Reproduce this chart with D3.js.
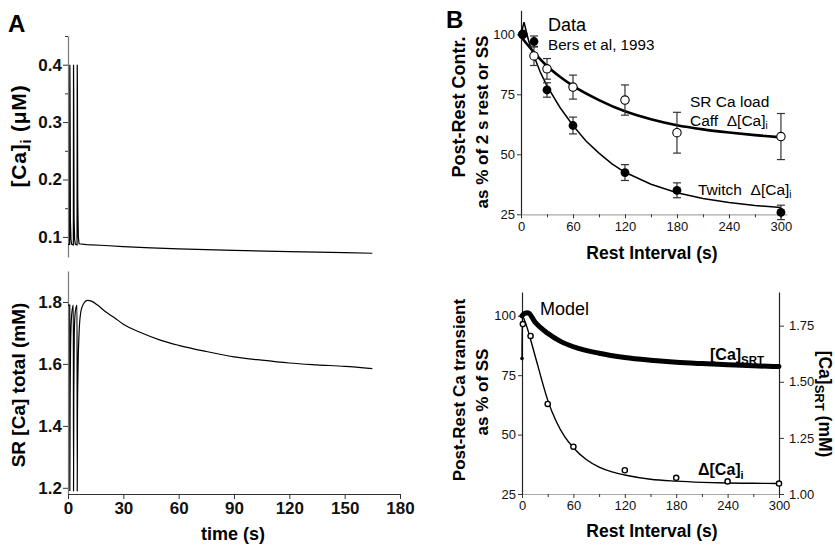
<!DOCTYPE html>
<html>
<head>
<meta charset="utf-8">
<script src="https://cdn.jsdelivr.net/npm/d3@7"></script>
<style>
  body { margin: 0; background: #fff; }
  svg text { font-family: "Liberation Sans", Arial, Helvetica, sans-serif; white-space: pre; }
</style>
</head>
<body>
<svg id="fig" width="835" height="546"></svg>
<script>
// ---------------- Panel A: time course after a train of 3 beats ----------------
const caiTime = [0, 0.9, 1.0, 1.1, 1.3, 1.6, 2.0, 2.9, 3.0, 3.1, 3.3, 3.6, 4.0, 4.9, 5.0, 5.1, 5.3, 5.6, 6,
                 10, 20, 30, 45, 60, 90, 120, 150, 165];
const caiValue = [0.087, 0.087, 0.40, 0.35, 0.13, 0.095, 0.087, 0.086, 0.40, 0.35, 0.13, 0.095, 0.087, 0.086, 0.40, 0.36, 0.165, 0.10, 0.088,
                  0.0865, 0.085, 0.083, 0.081, 0.079, 0.0765, 0.0745, 0.0725, 0.0715];

const srTime = [0, 0.95, 1.0, 1.15, 1.4, 2.0, 2.9, 3.0, 3.15, 3.4, 4.0, 4.9, 5.0, 5.15, 5.4, 6.0, 7.0, 8.5,
                10.5, 13, 16, 20, 25, 30, 40, 50, 60, 75, 90, 105, 120, 135, 150, 165];
const srValue = [1.79, 1.79, 1.19, 1.50, 1.66, 1.76, 1.79, 1.19, 1.50, 1.70, 1.77, 1.79, 1.19, 1.45, 1.57, 1.70, 1.77, 1.795,
                 1.805, 1.802, 1.79, 1.77, 1.75, 1.728, 1.70, 1.677, 1.66, 1.64, 1.623, 1.612, 1.603, 1.597, 1.592, 1.585];

const timeTicks = [0, 30, 60, 90, 120, 150, 180];
const caiTicks = [0.1, 0.2, 0.3, 0.4];
const caiMinorTicks = [0.15, 0.25, 0.35, 0.45];
const srTicks = [1.2, 1.4, 1.6, 1.8];

// ---------------- Panel B (upper): measured rest decay ----------------
const restInterval = [2, 15, 30, 60, 120, 180, 300];
const twitchMean = [100, 97, 76.8, 62, 42.4, 35, 25.8];
const twitchErr  = [0, 2.3, 3.0, 3.5, 3.3, 3.1, 3.0];
const caffMean   = [100, 91, 85.6, 78, 72.6, 59, 57.4];
const caffErr    = [0, 4.0, 4.3, 5.0, 6.3, 8.5, 9.6];

const caffFitT = [0, 15, 30, 45, 60, 90, 120, 150, 180, 210, 240, 270, 300];
const caffFitV = [99, 92.5, 86.8, 82.3, 78.5, 72.6, 67.9, 64.6, 62.1, 60.4, 59.1, 58.0, 57.1];
const twitchFitT = [0, 3.5, 9, 15, 22.5, 30, 45, 60, 75, 90, 105, 120, 150, 180, 210, 240, 270, 300];
const twitchFitV = [100, 105, 97, 91, 84, 78.5, 69.5, 62, 55.5, 50.5, 46, 42.5, 37.5, 34, 31.6, 29.9, 28.7, 27.8];

const restTicks = [0, 60, 120, 180, 240, 300];
const restMinorTicks = [30, 90, 150, 210, 270];
const pctTicks = [25, 50, 75, 100];

// ---------------- Panel B (lower): model ----------------
const modelRest = [1, 10, 30, 60, 120, 180, 240, 300];
const modelCai  = [96.5, 91.5, 62.9, 44.9, 35.0, 31.8, 30.3, 29.4];

const caiCurveT = [0, 0.4, 3, 6, 10, 15, 20, 25, 30, 40, 50, 60, 75, 90, 105, 120, 150, 180, 210, 240, 270, 300];
const caiCurveV = [82, 100, 98, 95, 90, 83.5, 77, 70.5, 64.5, 55.5, 49, 44.5, 39.5, 36.3, 34.3, 33, 31.2, 30.4, 29.9, 29.6, 29.5, 29.4];

const srtCurveT = [0, 3, 7, 15, 30, 45, 60, 90, 120, 150, 180, 210, 240, 270, 300];
const srtCurveV = [1.794, 1.805, 1.808, 1.767, 1.716, 1.68, 1.656, 1.627, 1.608, 1.596, 1.587, 1.581, 1.576, 1.571, 1.568];

const srtTicks = [1.0, 1.25, 1.5, 1.75];

// ---------------- drawing ----------------
const svg = d3.select("#fig");

function richText(parent, x, y, parts, o) {
  const t = parent.append("text")
    .attr("x", x).attr("y", y)
    .attr("font-size", o.size)
    .attr("font-weight", o.weight || "normal")
    .attr("text-anchor", o.anchor || "start")
    .attr("fill", o.fill || "#000");
  if (o.spacing) t.attr("letter-spacing", o.spacing);
  if (o.rotate) t.attr("transform", `rotate(${o.rotate},${x},${y})`);
  let shift = 0;
  parts.forEach(p => {
    const s = t.append("tspan").text(p.t);
    if (p.sub) {
      const sz = p.size || o.size * 0.7;
      const d = p.shift != null ? p.shift : o.size * 0.28;
      s.attr("font-size", sz).attr("dy", d);
      shift = d;
    } else if (shift) {
      s.attr("dy", -shift);
      shift = 0;
    }
  });
  return t;
}

function styleAxis(g, size, weight, domainColor) {
  g.attr("font-size", size).attr("font-weight", weight)
   .attr("font-family", '"Liberation Sans", Arial, Helvetica, sans-serif');
  g.select(".domain").attr("stroke", domainColor).attr("stroke-width", 1.2);
  g.selectAll(".tick line").attr("stroke", "#333").attr("stroke-width", 1);
  g.selectAll(".tick text").attr("fill", "#111");
  return g;
}

function minorTicks(g, axis) {
  g.call(axis);
  g.select(".domain").remove();
  g.selectAll(".tick line").attr("stroke", "#333");
}

// ===== Panel A =====
const xA = d3.scaleLinear().domain([0, 180]).range([68, 400]);
const yCai = d3.scaleLinear().domain([0.065, 0.45]).range([257, 36]);
const ySr = d3.scaleLinear().domain([1.18, 1.9]).range([494, 271]);

svg.append("text").attr("x", 8).attr("y", 32).attr("font-size", 24).attr("font-weight", "bold").text("A");

// upper: [Ca]i
const gCaiAx = svg.append("g").attr("transform", "translate(68,0)")
  .call(d3.axisLeft(yCai).tickValues(caiTicks).tickFormat(d3.format(".1f")).tickSize(5).tickSizeOuter(0).tickPadding(1));
styleAxis(gCaiAx, 17, "bold", "#777");
minorTicks(svg.append("g").attr("transform", "translate(68,0)"),
  d3.axisLeft(yCai).tickValues(caiMinorTicks).tickFormat("").tickSize(3));

svg.append("path")
  .datum(caiTime.map((t, i) => [t, caiValue[i]]))
  .attr("fill", "none").attr("stroke", "#000").attr("stroke-width", 1.2)
  .attr("d", d3.line().x(d => xA(d[0])).y(d => yCai(d[1])));

richText(svg, 26, 136, [{t: "[Ca]"}, {t: "i", sub: true, size: 14, shift: 5}, {t: " (\u03BCM)"}],
  {size: 21, weight: "bold", anchor: "middle", rotate: -90, spacing: 0.8});

// lower: SR Ca total
const gSrAx = svg.append("g").attr("transform", "translate(68,0)")
  .call(d3.axisLeft(ySr).tickValues(srTicks).tickFormat(d3.format(".1f")).tickSize(5).tickSizeOuter(0).tickPadding(1));
styleAxis(gSrAx, 17, "bold", "#777");

const gTimeAx = svg.append("g").attr("transform", "translate(0,494)")
  .call(d3.axisBottom(xA).tickValues(timeTicks).tickSize(5).tickSizeOuter(0).tickPadding(3));
styleAxis(gTimeAx, 17, "bold", "#333");

svg.append("path")
  .datum(srTime.map((t, i) => [t, srValue[i]]))
  .attr("fill", "none").attr("stroke", "#000").attr("stroke-width", 1.2)
  .attr("d", d3.line().x(d => xA(d[0])).y(d => ySr(d[1])).curve(d3.curveMonotoneX));

svg.append("text").attr("x", 25).attr("y", 385).attr("font-size", 19).attr("font-weight", "bold")
  .attr("text-anchor", "middle").attr("transform", "rotate(-90,25,385)").text("SR [Ca] total (mM)");
svg.append("text").attr("x", 233).attr("y", 540).attr("font-size", 18).attr("font-weight", "bold")
  .attr("text-anchor", "middle").text("time (s)");

// ===== Panel B upper =====
const xBt = d3.scaleLinear().domain([0, 307]).range([521, 787]);
const yBt = d3.scaleLinear().domain([25, 110]).range([214.3, 10.3]);

svg.append("text").attr("x", 446).attr("y", 28).attr("font-size", 24).attr("font-weight", "bold").text("B");

const gBtY = svg.append("g").attr("transform", "translate(521,0)")
  .call(d3.axisLeft(yBt).tickValues(pctTicks).tickSize(4).tickSizeOuter(0).tickPadding(2));
styleAxis(gBtY, 13, "normal", "#222");
const gBtX = svg.append("g").attr("transform", `translate(0,${yBt(25)})`)
  .call(d3.axisBottom(xBt).tickValues(restTicks).tickSize(4).tickSizeOuter(0).tickPadding(3));
styleAxis(gBtX, 13, "normal", "#aaa");
minorTicks(svg.append("g").attr("transform", `translate(0,${yBt(25)})`),
  d3.axisBottom(xBt).tickValues(restMinorTicks).tickFormat("").tickSize(3));

const lineBt = d3.line().x(d => xBt(d[0])).y(d => yBt(d[1])).curve(d3.curveMonotoneX);
svg.append("path").datum(caffFitT.map((t, i) => [t, caffFitV[i]]))
  .attr("fill", "none").attr("stroke", "#000").attr("stroke-width", 2.6).attr("d", lineBt);
svg.append("path").datum(twitchFitT.map((t, i) => [t, twitchFitV[i]]))
  .attr("fill", "none").attr("stroke", "#000").attr("stroke-width", 1.5)
  .attr("d", d3.line().x(d => xBt(d[0])).y(d => yBt(d[1])).curve(d3.curveLinear));

function errorBars(mean, err) {
  const g = svg.append("g").attr("stroke", "#333").attr("stroke-width", 1.2);
  restInterval.forEach((t, i) => {
    if (!err[i]) return;
    const x = xBt(t), y1 = yBt(mean[i] + err[i]), y2 = yBt(mean[i] - err[i]);
    g.append("line").attr("x1", x).attr("x2", x).attr("y1", y1).attr("y2", y2);
    g.append("line").attr("x1", x - 4).attr("x2", x + 4).attr("y1", y1).attr("y2", y1);
    g.append("line").attr("x1", x - 4).attr("x2", x + 4).attr("y1", y2).attr("y2", y2);
  });
}
errorBars(caffMean, caffErr);
errorBars(twitchMean, twitchErr);

svg.append("g").selectAll("circle").data(restInterval).join("circle")
  .attr("cx", d => xBt(d)).attr("cy", (d, i) => yBt(caffMean[i])).attr("r", 4.2)
  .attr("fill", "#fff").attr("stroke", "#000").attr("stroke-width", 1.1);
svg.append("g").selectAll("circle").data(restInterval).join("circle")
  .attr("cx", d => xBt(d)).attr("cy", (d, i) => yBt(twitchMean[i])).attr("r", 4.4)
  .attr("fill", "#000");

svg.append("text").attr("x", 548).attr("y", 31).attr("font-size", 18).text("Data");
svg.append("text").attr("x", 548).attr("y", 50).attr("font-size", 15.2).text("Bers et al, 1993");
svg.append("text").attr("x", 690).attr("y", 107).attr("font-size", 15.5).text("SR Ca load");
richText(svg, 690, 126, [{t: "Caff  \u0394[Ca]"}, {t: "i", sub: true, size: 10, shift: 3}], {size: 15.5});
richText(svg, 698, 195, [{t: "Twitch  \u0394[Ca]"}, {t: "i", sub: true, size: 10, shift: 3}], {size: 15.5});

svg.append("text").attr("x", 465).attr("y", 107).attr("font-size", 18).attr("font-weight", "bold")
  .attr("text-anchor", "middle").attr("transform", "rotate(-90,465,107)").text("Post-Rest Contr.");
svg.append("text").attr("x", 488).attr("y", 122).attr("font-size", 17).attr("font-weight", "bold")
  .attr("text-anchor", "middle").attr("transform", "rotate(-90,488,122)").text("as % of 2 s rest or SS");
svg.append("text").attr("x", 652).attr("y", 259).attr("font-size", 17.5).attr("font-weight", "bold")
  .attr("text-anchor", "middle").text("Rest Interval (s)");

// ===== Panel B lower =====
const xBb = d3.scaleLinear().domain([0, 300]).range([522, 779]);
const yBb = d3.scaleLinear().domain([25, 110]).range([494, 292]);
const yBr = d3.scaleLinear().domain([1.0, 1.9]).range([494, 292]);

const gBbY = svg.append("g").attr("transform", "translate(522,0)")
  .call(d3.axisLeft(yBb).tickValues(pctTicks).tickSize(4).tickSizeOuter(0).tickPadding(2));
styleAxis(gBbY, 13, "normal", "#222");
const gBbR = svg.append("g").attr("transform", "translate(779,0)")
  .call(d3.axisRight(yBr).tickValues(srtTicks).tickFormat(d3.format(".2f")).tickSize(5).tickSizeOuter(0).tickPadding(5));
styleAxis(gBbR, 13, "normal", "#222");
const gBbX = svg.append("g").attr("transform", "translate(0,494)")
  .call(d3.axisBottom(xBb).tickValues(restTicks).tickSize(4).tickSizeOuter(0).tickPadding(3));
styleAxis(gBbX, 13, "normal", "#aaa");
minorTicks(svg.append("g").attr("transform", "translate(0,494)"),
  d3.axisBottom(xBb).tickValues(restMinorTicks).tickFormat("").tickSize(3));

svg.append("path").datum(srtCurveT.map((t, i) => [t, srtCurveV[i]]))
  .attr("fill", "none").attr("stroke", "#000").attr("stroke-width", 5).attr("stroke-linecap", "round")
  .attr("d", d3.line().x(d => xBb(d[0])).y(d => yBr(d[1])).curve(d3.curveMonotoneX));
svg.append("path").datum(caiCurveT.map((t, i) => [t, caiCurveV[i]]))
  .attr("fill", "none").attr("stroke", "#000").attr("stroke-width", 1.4)
  .attr("d", d3.line().x(d => xBb(d[0])).y(d => yBb(d[1])).curve(d3.curveMonotoneX));
svg.append("circle").attr("cx", xBb(caiCurveT[0])).attr("cy", yBb(caiCurveV[0])).attr("r", 1.8).attr("fill", "#000");

svg.append("g").selectAll("circle").data(modelRest).join("circle")
  .attr("cx", d => xBb(d)).attr("cy", (d, i) => yBb(modelCai[i])).attr("r", 2.6)
  .attr("fill", "#fff").attr("stroke", "#000").attr("stroke-width", 1.4);

svg.append("text").attr("x", 540).attr("y", 315).attr("font-size", 18).text("Model");
richText(svg, 710, 360, [{t: "[Ca]"}, {t: "SRT", sub: true, size: 11.5, shift: 4}], {size: 16, weight: "bold"});
richText(svg, 698, 475, [{t: "\u0394[Ca]"}, {t: "i", sub: true, size: 11, shift: 4}], {size: 16, weight: "bold"});

svg.append("text").attr("x", 465).attr("y", 390).attr("font-size", 17).attr("font-weight", "bold")
  .attr("text-anchor", "middle").attr("transform", "rotate(-90,465,390)").text("Post-Rest Ca transient");
svg.append("text").attr("x", 488).attr("y", 392).attr("font-size", 17).attr("font-weight", "bold")
  .attr("text-anchor", "middle").attr("transform", "rotate(-90,488,392)").text("as % of SS");
richText(svg, 819, 404, [{t: "[Ca]"}, {t: "SRT", sub: true, size: 13, shift: 4}, {t: " (mM)"}],
  {size: 17.5, weight: "bold", anchor: "middle", rotate: 90});
svg.append("text").attr("x", 652).attr("y", 537).attr("font-size", 17.5).attr("font-weight", "bold")
  .attr("text-anchor", "middle").text("Rest Interval (s)");
</script>
</body>
</html>
